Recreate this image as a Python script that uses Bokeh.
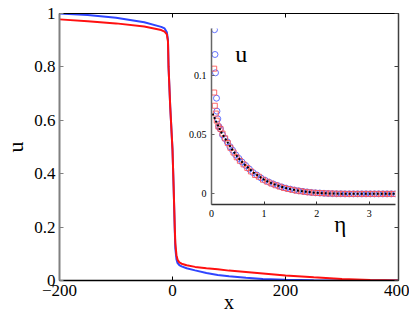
from bokeh.plotting import figure
from bokeh.models import LinearAxis, FixedTicker, Label, Range1d, CustomJSTickFormatter
from bokeh.layouts import column
from bokeh.embed import file_html
from bokeh.resources import INLINE

# ---------------- data: main panel ----------------
x_blue = [-200, -150, -100, -50, -20, -14, -10, -8, -7, -4, 0, 2, 4, 5, 7, 9, 12, 16, 25,
          40, 60, 80, 100, 130, 160, 200, 250, 300, 400]
u_blue = [1.0, 0.994, 0.984, 0.967, 0.950, 0.944, 0.930, 0.900, 0.80, 0.65, 0.49, 0.35, 0.19,
          0.12, 0.08, 0.065, 0.058, 0.053, 0.046, 0.038, 0.028, 0.021, 0.016, 0.010, 0.006,
          0.003, 0.001, 0.0, 0.0]

x_red = [-200, -150, -100, -50, -20, -14, -10, -8, -7, -4, 0, 2, 4, 5, 7, 9, 12, 16, 25,
         40, 60, 80, 100, 150, 200, 250, 300, 350, 400]
u_red = [0.978, 0.971, 0.963, 0.951, 0.938, 0.932, 0.922, 0.895, 0.80, 0.65, 0.49, 0.35, 0.20,
         0.14, 0.095, 0.078, 0.068, 0.063, 0.057, 0.051, 0.046, 0.042, 0.037, 0.028, 0.019,
         0.012, 0.006, 0.002, 0.0]

main_xticks = [-200, 0, 200, 400]
main_xlabels = ["\u2212200", "0", "200", "400"]
main_yticks = [0, 0.2, 0.4, 0.6, 0.8, 1]
main_ylabels = ["0", "0.2", "0.4", "0.6", "0.8", "1"]

# ---------------- data: inset ----------------
eta_ref = [0.02, 0.1, 0.2, 0.3, 0.4, 0.5, 0.6, 0.7, 0.8, 0.9, 1.0, 1.1, 1.2, 1.3, 1.4, 1.5,
           1.6, 1.7, 1.8, 1.9, 2.0, 2.2, 2.5, 3.0, 3.5]
u_ref = [0.068, 0.060, 0.051, 0.044, 0.037, 0.031, 0.026, 0.022, 0.018, 0.015, 0.012, 0.0098,
         0.008, 0.0064, 0.0051, 0.004, 0.0031, 0.0024, 0.0018, 0.0013, 0.0009, 0.0004, 0.0001,
         0.0, 0.0]

eta_circ = [0.057, 0.066, 0.076, 0.095, 0.104, 0.12,
            0.14, 0.17, 0.21, 0.25, 0.30, 0.35, 0.40, 0.46, 0.52, 0.58, 0.65, 0.72, 0.79, 0.86,
            0.94, 1.02, 1.10, 1.18, 1.26, 1.34, 1.42, 1.50, 1.58, 1.66, 1.74, 1.82, 1.90, 1.98,
            2.06, 2.14, 2.22, 2.30, 2.38, 2.46,
            2.54, 2.62, 2.70, 2.78, 2.86, 2.94, 3.02, 3.10, 3.18, 3.26, 3.34, 3.42, 3.50]
u_circ = [0.139, 0.118, 0.1025, 0.081, 0.070, 0.0635,
          0.057, 0.055, 0.050, 0.047, 0.044, 0.040, 0.037, 0.033, 0.030, 0.027, 0.024, 0.021,
          0.018, 0.016, 0.0135, 0.0115, 0.0098, 0.0083, 0.007, 0.0058, 0.0048, 0.004, 0.0032,
          0.0026, 0.0021, 0.0016, 0.0012, 0.0009, 0.0007, 0.0005, 0.0003, 0.0002, 0.0001, 0.0001,
          0, 0, 0, 0, 0, 0, 0, 0, 0, 0, 0, 0, 0]

eta_sq = [0.051, 0.051, 0.063, 0.082, 0.10, 0.13,
          0.17, 0.21, 0.26, 0.31, 0.36, 0.42, 0.48, 0.54, 0.61, 0.68, 0.75, 0.83, 0.90, 0.98,
          1.06, 1.14, 1.22, 1.30, 1.38, 1.46, 1.54, 1.62, 1.70, 1.78, 1.86, 1.94,
          2.02, 2.10, 2.18, 2.26, 2.34, 2.42, 2.50, 2.58, 2.66, 2.74, 2.82, 2.90, 2.98,
          3.06, 3.14, 3.22, 3.30, 3.38, 3.46]
u_sq = [0.106, 0.0858, 0.0746, 0.068, 0.062, 0.057,
        0.055, 0.051, 0.047, 0.043, 0.039, 0.035, 0.031, 0.028, 0.025, 0.022, 0.019, 0.016,
        0.0145, 0.012,
        0.0103, 0.0087, 0.0073, 0.0061, 0.005, 0.0041, 0.0034, 0.0027, 0.0022, 0.0017, 0.0013,
        0.001,
        0.0008, 0.0006, 0.0004, 0.0003, 0.0002, 0.0001, 0.0001, 0, 0, 0, 0, 0, 0,
        0, 0, 0, 0, 0, 0]

inset_xticks = [0, 1, 2, 3]
inset_xlabels = ["0", "1", "2", "3"]
inset_yticks = [0, 0.05, 0.1]
inset_ylabels = ["0", "0.05", "0.1"]

SERIF = "Liberation Serif"

# ---------------- inset figure ----------------
ins = figure(frame_width=184, frame_height=176, x_range=Range1d(0, 3.5),
             y_range=Range1d(-0.009, 0.14), output_backend="svg", toolbar_location=None,
             min_border_left=49, min_border_right=11, min_border_top=4, min_border_bottom=34)
ins.background_fill_alpha = 0
ins.border_fill_alpha = 0
ins.outline_line_color = None
ins.grid.visible = False

ins.scatter(eta_circ, u_circ, marker="circle", size=6, fill_color=None,
            line_color="#4a5cff", line_width=1, line_alpha=0.85)
ins.scatter(eta_sq, u_sq, marker="square", size=5, fill_color=None,
            line_color="#ff5050", line_width=1, line_alpha=0.85)
ins.line(eta_ref, u_ref, line_color="black", line_width=2, line_dash="2 2")

ins.xaxis.ticker = FixedTicker(ticks=inset_xticks)
ins.xaxis.major_label_overrides = dict(zip(inset_xticks, inset_xlabels))
ins.yaxis.ticker = FixedTicker(ticks=inset_yticks)
ins.yaxis.major_label_overrides = dict(zip(inset_yticks, inset_ylabels))
for ax in (ins.xaxis[0], ins.yaxis[0]):
    ax.major_tick_in = 3
    ax.major_tick_out = 0
    ax.minor_tick_line_color = None
    ax.major_label_text_font = SERIF
    ax.major_label_text_font_size = "10px"
    ax.major_label_text_color = "black"
    ax.major_label_standoff = 5
ins.yaxis.axis_line_color = "#666666"
ins.yaxis.major_tick_line_color = "#666666"
ins.xaxis.axis_line_color = "#333333"
ins.xaxis.major_tick_line_color = "#333333"
ins.yaxis.axis_line_width = 1.5
ins.xaxis.axis_line_width = 1.5

ins.add_layout(Label(x=0.566, y=0.118, text="u", text_font=SERIF, text_font_size="24px",
                     text_align="center", text_baseline="alphabetic", text_color="black"))

# ---------------- main figure ----------------
p = figure(frame_width=339, frame_height=267, x_range=Range1d(-200, 400),
           y_range=Range1d(0, 1), output_backend="svg", toolbar_location=None,
           min_border_left=49, min_border_right=11, min_border_top=11, min_border_bottom=33,
           x_axis_label="x", y_axis_label="u")
p.background_fill_alpha = 0
p.border_fill_alpha = 0
p.outline_line_color = None
p.grid.visible = False

p.line(x_blue, u_blue, line_color="#2f45ff", line_width=2)
p.line(x_red, u_red, line_color="#ff1010", line_width=2)

p.xaxis.ticker = FixedTicker(ticks=main_xticks)
p.xaxis.major_label_overrides = dict(zip(main_xticks, main_xlabels))
p.yaxis.ticker = FixedTicker(ticks=main_yticks)
p.yaxis.major_label_overrides = dict(zip(main_yticks, main_ylabels))
for ax in (p.xaxis[0], p.yaxis[0]):
    ax.major_tick_in = 4
    ax.major_tick_out = 0
    ax.minor_tick_line_color = None
    ax.major_label_text_font = SERIF
    ax.major_label_text_font_size = "17px"
    ax.major_label_text_color = "black"
    ax.axis_label_text_font = SERIF
    ax.axis_label_text_font_style = "normal"
    ax.axis_label_text_color = "black"
p.yaxis.major_label_standoff = 4
p.yaxis.axis_label_text_font_size = "22px"
p.yaxis.axis_label_standoff = 3
p.yaxis.axis_line_color = "#808080"
p.yaxis.major_tick_line_color = "#808080"
p.yaxis.axis_line_width = 2
p.xaxis.major_label_standoff = 4
p.xaxis.axis_label_text_font_size = "20px"
p.xaxis.axis_label_standoff = -8
p.xaxis.axis_line_color = "black"
p.xaxis.axis_line_width = 1.5

blank = CustomJSTickFormatter(code="return ''")
top_ax = LinearAxis(ticker=FixedTicker(ticks=main_xticks), formatter=blank,
                    major_tick_in=4, major_tick_out=0, minor_tick_line_color=None,
                    axis_line_color="black", axis_line_width=1, major_label_standoff=0)
p.add_layout(top_ax, "above")
right_ax = LinearAxis(ticker=FixedTicker(ticks=main_yticks), formatter=blank,
                      major_tick_in=4, major_tick_out=0, minor_tick_line_color=None,
                      axis_line_color="#404040", major_tick_line_color="#404040",
                      axis_line_width=1.5, major_label_standoff=0)
p.add_layout(right_ax, "right")

# inset axis label (eta), drawn in the main panel just below the inset's axis
p.add_layout(Label(x=297, y=0.208, text="\u03b7", text_font=SERIF, text_font_size="23px",
                   text_align="center", text_baseline="alphabetic", text_color="black"))

# inset placed over the main panel (first child's top margin collapses with the page margin)
ins.margin = (24, 0, 0, 152)
p.margin = (-(24 + 4 + 176 + 34) + 2, 0, 0, 0)

layout = column(ins, p)
open("out.html", "w").write(file_html(layout, INLINE))
